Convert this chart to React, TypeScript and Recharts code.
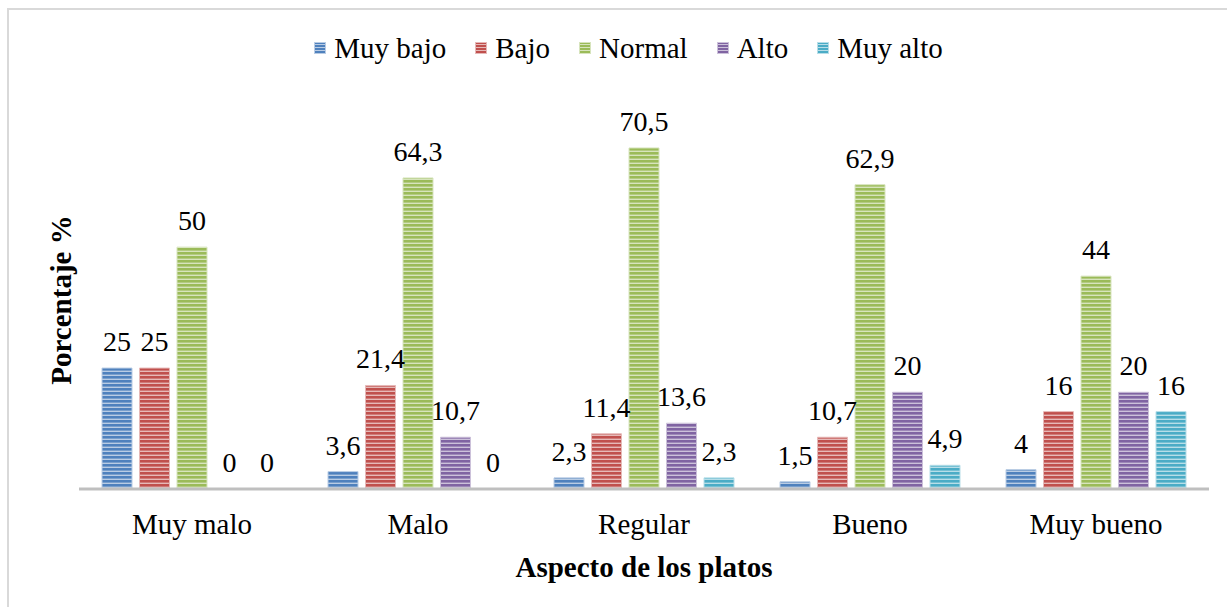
import React from 'react';
import { BarChart, Bar, XAxis, YAxis, Legend, LabelList, Label } from 'recharts';

const categories = ['Muy malo', 'Malo', 'Regular', 'Bueno', 'Muy bueno'];
const seriesNames = ['Muy bajo', 'Bajo', 'Normal', 'Alto', 'Muy alto'];
const muyBajo = [25, 3.6, 2.3, 1.5, 4];
const bajo = [25, 21.4, 11.4, 10.7, 16];
const normal = [50, 64.3, 70.5, 62.9, 44];
const alto = [0, 10.7, 13.6, 20, 20];
const muyAlto = [0, 0, 2.3, 4.9, 16];

const seriesValues = [muyBajo, bajo, normal, alto, muyAlto];
const colors = ['#4F81BD', '#C0504D', '#9BBB59', '#8064A2', '#4BACC6'];
const lights = ['#B9CCE4', '#E6B9B8', '#D7E4BD', '#CCC1DA', '#B7DEE8'];
const keys = ['s0', 's1', 's2', 's3', 's4'];

const data = categories.map((c, i) => {
  const row: any = { name: c };
  keys.forEach((k, j) => {
    row[k] = seriesValues[j][i];
  });
  return row;
});

const FONT = '"Liberation Serif", "Times New Roman", serif';

const fmt = (v: any) => String(v).replace('.', ',');

const Swatch = ({ idx }: { idx: number }) => (
  <svg width={12} height={12} style={{ display: 'block' }}>
    <defs>
      <pattern id={`lp${idx}`} width="3" height="3" patternUnits="userSpaceOnUse">
        <rect width="3" height="3" fill={colors[idx]} />
        <rect y="2" width="3" height="1" fill={lights[idx]} />
      </pattern>
    </defs>
    <rect x={0.5} y={0.5} width={11} height={11} fill={`url(#lp${idx})`} stroke={lights[idx]} strokeWidth={1} />
  </svg>
);

const LegendContent = () => (
  <div
    style={{
      height: 30,
      width: 1227,
      display: 'flex',
      justifyContent: 'center',
      alignItems: 'center',
      paddingLeft: 30,
      boxSizing: 'border-box',
      fontFamily: FONT,
      fontSize: 29,
      color: '#000',
    }}
  >
    {seriesNames.map((n, i) => (
      <div key={n} style={{ display: 'flex', alignItems: 'center', marginRight: i < seriesNames.length - 1 ? 29 : 0 }}>
        <Swatch idx={i} />
        <span style={{ marginLeft: 8, lineHeight: '30px' }}>{n}</span>
      </div>
    ))}
  </div>
);

const makeLabel = (k: string) => (props: any) => {
  const { x, y, width, value } = props;
  if (value === undefined || value === null) return null;
  return (
    <text
      x={Number(x) + Number(width) / 2}
      y={Number(y) - 17}
      textAnchor="middle"
      fontFamily={FONT}
      fontSize={28}
      fill="#000"
    >
      {fmt(value)}
    </text>
  );
};

export default function App() {
  return (
    <div style={{ position: 'absolute', left: 0, top: 0, width: 1227, height: 607, overflow: 'hidden', background: '#fff' }}>
      <div
        style={{
          position: 'absolute',
          left: 7,
          top: 8,
          width: 1400,
          height: 800,
          border: '2px solid #D9D9D9',
        }}
      />
      <div style={{ position: 'absolute', left: 0, top: 0 }}>
        <BarChart
          width={1227}
          height={607}
          data={data}
          margin={{ top: 72, right: 18, left: 0, bottom: 0 }}
          barSize={30}
          barGap={7.5}
        >
          <defs>
            {colors.map((c, i) => (
              <pattern key={i} id={`bp${i}`} width="4" height="4" patternUnits="userSpaceOnUse">
                <rect width="4" height="4" fill={c} />
                <rect y="2.6" width="4" height="1.4" fill={lights[i]} />
              </pattern>
            ))}
          </defs>
          <Legend
            verticalAlign="top"
            align="left"
            content={<LegendContent />}
            wrapperStyle={{ top: 33, left: 0, width: 1227, height: 30 }}
          />
          <XAxis
            dataKey="name"
            height={118}
            tickLine={false}
            axisLine={{ stroke: '#BFBFBF', strokeWidth: 3 }}
            tickMargin={18}
            tick={{ fill: '#000', fontSize: 29, fontFamily: FONT }}
            interval={0}
          >
            <Label
              content={(props: any) => {
                const vb = props.viewBox || {};
                return (
                  <text
                    x={vb.x + vb.width / 2}
                    y={577}
                    textAnchor="middle"
                    fontFamily={FONT}
                    fontSize={29}
                    fontWeight="bold"
                    fill="#000"
                  >
                    Aspecto de los platos
                  </text>
                );
              }}
            />
          </XAxis>
          <YAxis width={79} domain={[0, 80]} tick={false} tickLine={false} axisLine={false}>
            <Label
              content={() => {
                const cy = 300;
                return (
                  <text
                    x={71}
                    y={cy}
                    transform={`rotate(-90, 71, ${cy})`}
                    textAnchor="middle"
                    fontFamily={FONT}
                    fontSize={29}
                    fontWeight="bold"
                    fill="#000"
                  >
                    Porcentaje %
                  </text>
                );
              }}
            />
          </YAxis>
          {keys.map((k, i) => (
            <Bar
              key={k}
              dataKey={k}
              name={seriesNames[i]}
              fill={`url(#bp${i})`}
              stroke={lights[i]}
              strokeWidth={1}
              minPointSize={(v: any) => (v === 0 ? 0.01 : 0)}
              isAnimationActive={false}
            >
              <LabelList dataKey={k} content={makeLabel(k)} />
            </Bar>
          ))}
        </BarChart>
      </div>
    </div>
  );
}
